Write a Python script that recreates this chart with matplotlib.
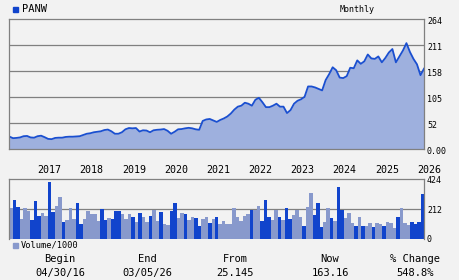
import matplotlib
matplotlib.use("Agg")
import matplotlib.pyplot as plt
import matplotlib.transforms as mtransforms
import numpy as np

# Monthly closes, 04/2016 .. 03/2026
ticker = "PANW"
price = [
    25.1, 22, 22.5, 23.5, 26, 26.5, 23.5, 23, 26, 27,
    24, 20.5, 20, 22.5, 23, 23, 24.5, 25, 25, 25.5,
    26, 28.5, 31, 32, 34, 35, 36, 38.5, 39.5, 36,
    31, 31, 34, 40, 42.6, 42, 42.6, 35.5, 38, 37.5,
    34, 38, 39, 39.5, 40.5, 37, 31, 35, 40, 40.5,
    42, 43, 42, 40, 39, 57, 60, 61, 58, 55,
    59, 62, 66, 72, 80, 86, 88, 94, 92, 88,
    100, 104, 95, 85, 85, 88, 92, 86, 86, 73,
    79, 92, 98, 101, 106, 127, 127, 125, 122, 119,
    140, 152, 166, 160, 145, 144, 148, 165, 164, 180,
    173, 178, 192, 184, 183, 188, 176, 185, 196, 203,
    176, 188, 200, 215, 197, 183, 172, 150, 163.16,
]
volume = [
    216, 276, 225, 142, 216, 197, 132, 268, 161, 183,
    161, 405, 190, 233, 297, 118, 132, 216, 140, 254,
    104, 140, 197, 175, 175, 125, 211, 132, 147, 140,
    197, 197, 175, 140, 175, 154, 118, 183, 154, 118,
    161, 204, 125, 190, 104, 97, 197, 254, 147, 183,
    175, 132, 154, 147, 90, 140, 154, 111, 140, 154,
    104, 125, 104, 104, 216, 154, 125, 161, 175, 204,
    204, 233, 125, 276, 154, 132, 204, 154, 132, 218,
    140, 168, 204, 154, 90, 226, 326, 168, 254, 83,
    118, 218, 147, 125, 369, 204, 147, 183, 111, 90,
    154, 90, 90, 111, 83, 111, 104, 90, 118, 111,
    76, 154, 218, 111, 97, 118, 104, 118, 318,
]
dark_bar = [
    0, 1, 1, 0, 0, 0, 1, 1, 1, 0, 0, 1, 1, 0, 0, 1, 0, 0, 0, 1,
    1, 0, 0, 0, 0, 0, 1, 1, 0, 1, 1, 1, 0, 0, 0, 1, 0, 1, 0, 0,
    1, 0, 0, 1, 0, 0, 1, 1, 0, 0, 1, 0, 0, 1, 1, 0, 0, 1, 0, 1,
    0, 0, 0, 0, 0, 0, 0, 0, 0, 1, 0, 0, 1, 1, 1, 0, 0, 1, 0, 1,
    1, 0, 0, 0, 1, 0, 0, 1, 1, 1, 0, 0, 1, 0, 1, 1, 0, 0, 0, 1,
    0, 1, 0, 0, 1, 0, 0, 1, 0, 0, 0, 1, 0, 0, 0, 1, 1, 1, 1,
]
year_labels = ["2017", "2018", "2019", "2020", "2021",
               "2022", "2023", "2024", "2025", "2026"]
price_ticks = [0, 52.8, 105.6, 158.4, 211.2, 264]
price_tick_labels = ["0.00", "52", "105", "158", "211", "264"]
vol_ticks = [0, 212, 424]
footer_heads = ["Begin", "End", "From", "Now", "% Change"]
footer_vals = ["04/30/16", "03/05/26", "25.145", "163.16", "548.8%"]

BG = "#f2f2f2"
GRID = "#808080"
DARK = "#1144cc"
LIGHT = "#8899cc"
FILL = "#9eb0de"
FONT = "DejaVu Sans Mono"

W, H = 460, 280
fig = plt.figure(figsize=(W / 100, H / 100), dpi=100, facecolor=BG)


def box(left, top, right, bottom):
    return [left / W, 1 - bottom / H, (right - left) / W, (bottom - top) / H]


months = np.arange(len(price))

# price panel
ax = fig.add_axes(box(9.5, 19, 424, 149), facecolor=BG)
for v in price_ticks[1:-1]:
    ax.axhline(v, color=GRID, lw=0.9, zorder=0.5)
ax.fill_between(months, price, 0, color=FILL, lw=0, zorder=1)
ax.plot(months, price, color="#1a4fd0", lw=1.3, zorder=2)
ax.set_xlim(0, len(price) - 1)
ax.set_ylim(0, 264)
ax.set_xticks([])
ax.set_yticks([])
for sp in ax.spines.values():
    sp.set_color(GRID)
    sp.set_linewidth(0.9)
off = mtransforms.ScaledTranslation(3 / 100, -2 / 100, fig.dpi_scale_trans)
for v, lab in zip(price_ticks, price_tick_labels):
    ax.text(1.0, v, lab, transform=ax.get_yaxis_transform() + off,
            ha="left", va="center", fontsize=6, family=FONT)

# year labels sit a little right of January
xlab = mtransforms.blended_transform_factory(ax.transData, fig.transFigure)
for k, lab in enumerate(year_labels):
    jan = 9 + 12 * k
    ax.text(jan + 2.4, 1 - 170 / H, lab, transform=xlab, ha="center",
            va="center", fontsize=7.2, family=FONT, clip_on=False)

# volume panel
vax = fig.add_axes(box(9.5, 179.3, 424, 238.5), facecolor=BG)
vax.axhline(212, color=GRID, lw=0.9, zorder=0.5)
colors = [DARK if d else LIGHT for d in dark_bar]
vax.bar(months, volume, width=1.0, color=colors, lw=0, zorder=1)
vax.set_xlim(-0.5, len(volume) - 0.5)
vax.set_ylim(0, 424)
vax.set_xticks([])
vax.set_yticks([])
for sp in vax.spines.values():
    sp.set_color(GRID)
    sp.set_linewidth(0.9)
vax.spines["bottom"].set_visible(False)
off2 = mtransforms.ScaledTranslation(3 / 100, -1.5 / 100, fig.dpi_scale_trans)
for v in vol_ticks:
    vax.text(1.0, v, str(v), transform=vax.get_yaxis_transform() + off2,
             ha="left", va="center", fontsize=6, family=FONT)

# header and legend
fig.patches.append(plt.Rectangle((13 / W, 1 - 12 / H), 4.5 / W, 5 / H,
                                 color=DARK, transform=fig.transFigure))
fig.text(22.5 / W, 1 - 9 / H, ticker, ha="left", va="center",
         fontsize=7.5, family=FONT)
fig.text(357 / W, 1 - 9 / H, "Monthly", ha="center", va="center",
         fontsize=6, family=FONT)
fig.patches.append(plt.Rectangle((13 / W, 1 - 247.5 / H), 4.5 / W, 4.5 / H,
                                 color=LIGHT, transform=fig.transFigure))
fig.text(20.5 / W, 1 - 245.3 / H, "Volume/1000", ha="left", va="center",
         fontsize=6.2, family=FONT)

# footer
footer_x = [60, 147, 235, 330, 415]
for x, head, val in zip(footer_x, footer_heads, footer_vals):
    fig.text(x / W, 1 - 259 / H, head, ha="center", va="center",
             fontsize=7.5, family=FONT)
    fig.text(x / W, 1 - 273 / H, val, ha="center", va="center",
             fontsize=7.5, family=FONT)

fig.savefig("out.png", dpi=100, facecolor=BG)
